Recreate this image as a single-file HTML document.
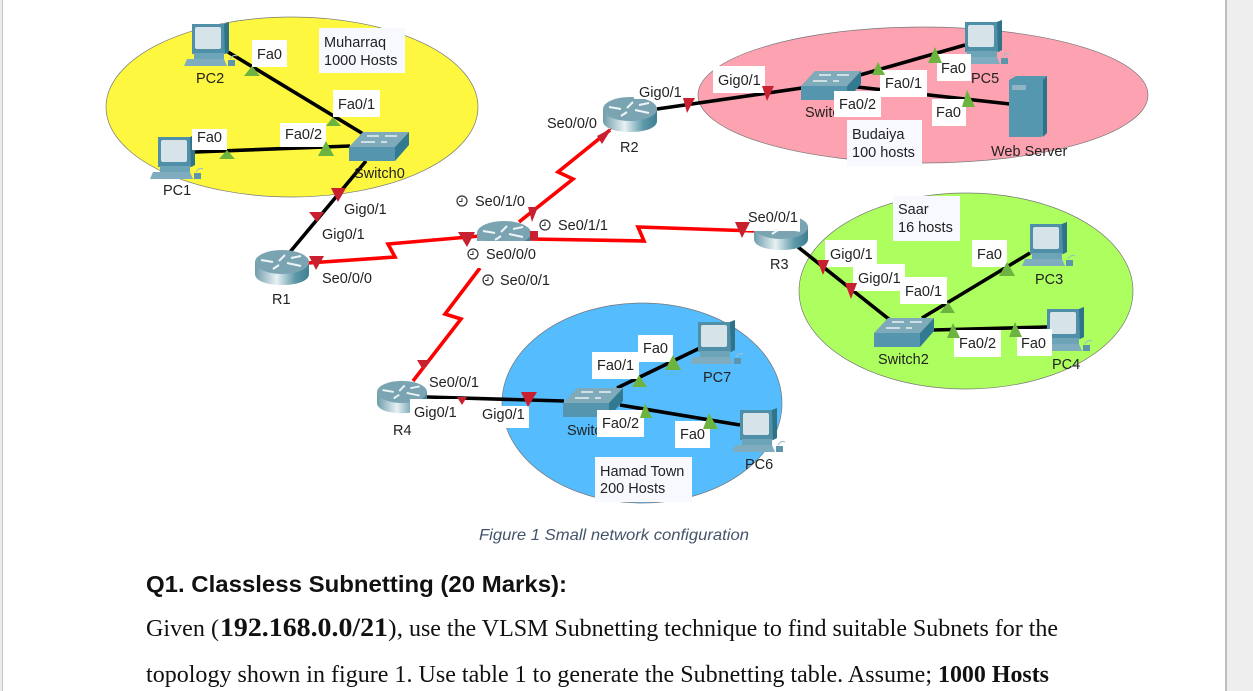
<!DOCTYPE html>
<html><head><meta charset="utf-8"><style>
html,body{margin:0;padding:0;background:#fff;width:1253px;height:691px;overflow:hidden}
svg{display:block}
text{font-family:"Liberation Sans",sans-serif;font-size:14.5px;fill:#222}
.s{font-family:"Liberation Serif",serif;font-size:24px;fill:#111}
.lk{stroke:#000;stroke-width:3.6;fill:none}
.se{stroke:#f00;stroke-width:3.6;fill:none;stroke-linejoin:miter}
.g{fill:#6cb33f}.r{fill:#c8202f}
.b{fill:#fff}.n{fill:#f8f9ff}
</style></head><body>
<svg width="1253" height="691" viewBox="0 0 1253 691" xmlns="http://www.w3.org/2000/svg">
<defs>
<linearGradient id="cy" x1="0" x2="1" y1="0" y2="0"><stop offset="0" stop-color="#6f9cab"/><stop offset=".4" stop-color="#e8f1f3"/><stop offset=".75" stop-color="#5c98a8"/><stop offset="1" stop-color="#3f7f92"/></linearGradient>
<symbol id="pc" width="52" height="48" viewBox="0 0 52 48" overflow="visible">
<polygon points="0,2 32,2 37,0 37,30 33,32 0,32" fill="#4f8fa8"/>
<polygon points="32,2 37,0 37,30 33,32" fill="#2f7389"/>
<rect x="3" y="5" width="26" height="22" rx="2" fill="#d6e4ea"/>
<rect x="2" y="31" width="30" height="6" fill="#6ea4b8"/>
<polygon points="-5,37 32,37 35,44 -8,44" fill="#7fadbf"/>
<rect x="36" y="38" width="7" height="6" fill="#5d96ac"/>
<path d="M38 37q3-5 7-3" stroke="#9fbdc8" fill="none"/>
</symbol>
<symbol id="rt" width="54" height="36" viewBox="0 0 54 36" overflow="visible">
<path d="M0 12V24C0 31 12 35 27 35S54 31 54 24V12Z" fill="url(#cy)"/>
<ellipse cx="27" cy="12" rx="27" ry="12" fill="#7ba4b3"/>
<path d="M6 10l12 2M30 5l-6 6M24 15l-6 4M32 13l14 3M36 8l10-2" stroke="#eef5f7" stroke-width="2" fill="none"/>
</symbol>
<symbol id="sw" width="60" height="30" viewBox="0 0 60 30" overflow="visible">
<polygon points="14,0 60,0 46,15 0,15" fill="#7faab9"/>
<polygon points="0,15 46,15 46,29 0,29" fill="#5595ad"/>
<polygon points="46,15 60,0 60,13 46,29" fill="#327a91"/>
<path d="M18 4h12M36 4h12M12 10h14M32 10h6" stroke="#e8f1f4" stroke-width="1.5"/>
</symbol>
<symbol id="ck" width="12" height="12" viewBox="0 0 12 12" overflow="visible">
<circle cx="6" cy="6" r="5" fill="#fff" stroke="#333" stroke-width="1.2"/>
<path d="M6 3V6.5H3" stroke="#333" fill="none"/>
</symbol>
</defs>

<rect x="0" y="0" width="2" height="691" fill="#ececec"/>
<rect x="2" y="0" width="1" height="691" fill="#c6c6c6"/>
<rect x="1225" y="0" width="2" height="691" fill="#bdbdbd"/>
<rect x="1227" y="0" width="26" height="691" fill="#eeeeee"/>

<ellipse cx="292" cy="107" rx="186" ry="90" fill="#fdf83f" stroke="#777" stroke-width=".7"/>
<ellipse cx="923" cy="95" rx="225" ry="68" fill="#fda2b0" stroke="#777" stroke-width=".7"/>
<ellipse cx="966" cy="291" rx="167" ry="98" fill="#adfe5f" stroke="#777" stroke-width=".7"/>
<ellipse cx="642" cy="403" rx="140" ry="100" fill="#55bcfd" stroke="#777" stroke-width=".7"/>

<path class="lk" d="M228 52L365 135M195 152L350 146M366 161L290 252"/>
<path class="lk" d="M657 109L802 88M860 75L965 45M857 87L1010 104"/>
<path class="lk" d="M798 247L890 320M922 318L1030 253M933 330L1047 327"/>
<path class="lk" d="M427 397L564 401M617 388L700 348M620 405L740 425"/>
<path class="se" d="M308 263L395 257L388 244L480 236"/>
<path class="se" d="M519 222L573 179L558 172L610 130"/>
<path class="se" d="M530 239L644 241L638 227L755 231"/>
<path class="se" d="M480 268L445 314L461 319L413 381"/>

<use href="#pc" x="192" y="22"/>
<use href="#pc" x="158" y="135"/>
<use href="#pc" x="965" y="20"/>
<use href="#pc" x="1030" y="222"/>
<use href="#pc" x="1047" y="307"/>
<use href="#pc" x="698" y="320"/>
<use href="#pc" x="740" y="408"/>
<use href="#rt" x="255" y="250"/>
<use href="#rt" x="603" y="97"/>
<use href="#rt" x="477" y="221"/>
<use href="#rt" x="754" y="215"/>
<use href="#rt" x="377" y="380" width="50" height="35"/>
<use href="#sw" x="349" y="132"/>
<use href="#sw" x="801" y="71"/>
<use href="#sw" x="874" y="318"/>
<use href="#sw" x="563" y="388"/>
<polygon points="1009,80 1016,76 1047,76 1047,133 1041,137 1009,137" fill="#5597ae"/>
<polygon points="1043,80 1047,76 1047,133 1043,137" fill="#2f7389"/>
<rect x="1012" y="85" width="14" height="5" fill="#8fb5c4"/>

<text x="805" y="117">Switch1</text>
<text x="567" y="435">Switch3</text>
<polygon class="g" points="885,84 880,97 895,97"/>
<polygon class="r" points="530,231 538,231 538,240 530,240"/>

<rect class="b" x="470" y="241" width="62" height="27"/>
<rect class="b" x="743" y="205" width="57" height="26"/>
<rect class="b" x="634" y="80" width="50" height="19"/>
<rect class="b" x="410" y="399" width="50" height="22"/>
<rect class="b" x="252" y="40" width="35" height="27"/>
<rect class="n" x="319" y="28" width="86" height="45"/>
<rect class="b" x="333" y="90" width="47" height="27"/>
<rect class="b" x="192" y="129" width="35" height="21"/>
<rect class="b" x="280" y="123" width="46" height="24"/>
<rect class="b" x="713" y="66" width="52" height="27"/>
<rect class="b" x="880" y="70" width="47" height="27"/>
<rect class="b" x="937" y="54" width="34" height="27"/>
<rect class="b" x="834" y="91" width="47" height="26"/>
<rect class="b" x="932" y="99" width="34" height="27"/>
<rect class="n" x="847" y="120" width="75" height="46"/>
<rect class="n" x="893" y="196" width="67" height="45"/>
<rect class="b" x="825" y="240" width="52" height="27"/>
<rect class="b" x="853" y="264" width="52" height="27"/>
<rect class="b" x="900" y="277" width="47" height="27"/>
<rect class="b" x="972" y="240" width="35" height="27"/>
<rect class="b" x="954" y="330" width="47" height="27"/>
<rect class="b" x="1017" y="329" width="35" height="27"/>
<rect class="b" x="480" y="406" width="49" height="22"/>
<rect class="b" x="638" y="335" width="35" height="27"/>
<rect class="b" x="592" y="352" width="47" height="27"/>
<rect class="b" x="597" y="410" width="47" height="27"/>
<rect class="b" x="675" y="421" width="35" height="27"/>
<rect class="n" x="595" y="457" width="97" height="45"/>

<polygon class="g" points="252,66 244,76 260,76"/>
<polygon class="g" points="333,117 326,126 341,126"/>
<polygon class="g" points="227,150 219,159 235,159"/>
<polygon class="g" points="326,141 318,156 334,156"/>
<polygon class="g" points="878,62 872,75 885,75"/>
<polygon class="g" points="935,47 928,63 942,63"/>
<polygon class="g" points="967,90 962,107 975,107"/>
<polygon class="g" points="948,302 940,313 955,313"/>
<polygon class="g" points="1007,262 999,276 1015,276"/>
<polygon class="g" points="953,323 947,338 960,338"/>
<polygon class="g" points="1015,322 1009,337 1022,337"/>
<polygon class="g" points="639,375 632,387 647,387"/>
<polygon class="g" points="673,355 665,370 681,370"/>
<polygon class="g" points="645,403 640,418 652,418"/>
<polygon class="g" points="709,413 703,429 718,429"/>
<polygon class="r" points="331,188 346,188 338,202"/>
<polygon class="r" points="309,212 324,212 317,222"/>
<polygon class="r" points="309,256 324,256 316,270"/>
<polygon class="r" points="458,232 475,232 467,247"/>
<polygon class="r" points="528,207 538,207 532,222"/>
<polygon class="r" points="735,222 750,222 742,238"/>
<polygon class="r" points="597,136 612,128 602,144"/>
<polygon class="r" points="683,98 695,98 687,113"/>
<polygon class="r" points="762,86 774,86 767,101"/>
<polygon class="r" points="817,260 829,260 823,275"/>
<polygon class="r" points="845,283 857,283 851,299"/>
<polygon class="r" points="417,360 431,360 423,370"/>
<polygon class="r" points="457,397 467,397 462,405"/>
<polygon class="r" points="521,392 537,392 528,407"/>

<use href="#ck" x="456" y="195"/>
<use href="#ck" x="539" y="219"/>
<use href="#ck" x="467" y="248"/>
<use href="#ck" x="482" y="274"/>

<text x="257" y="59">Fa0</text>
<text x="324" y="47">Muharraq</text>
<text x="324" y="65">1000 Hosts</text>
<text x="338" y="109">Fa0/1</text>
<text x="197" y="142">Fa0</text>
<text x="285" y="139">Fa0/2</text>
<text x="354" y="178">Switch0</text>
<text x="196" y="83">PC2</text>
<text x="163" y="195">PC1</text>
<text x="344" y="214">Gig0/1</text>
<text x="322" y="239">Gig0/1</text>
<text x="322" y="283">Se0/0/0</text>
<text x="272" y="304">R1</text>
<text x="547" y="128">Se0/0/0</text>
<text x="639" y="97">Gig0/1</text>
<text x="620" y="152">R2</text>
<text x="718" y="85">Gig0/1</text>
<text x="475" y="206">Se0/1/0</text>
<text x="558" y="230">Se0/1/1</text>
<text x="486" y="259">Se0/0/0</text>
<text x="500" y="285">Se0/0/1</text>
<text x="748" y="222">Se0/0/1</text>
<text x="770" y="269">R3</text>
<text x="885" y="88">Fa0/1</text>
<text x="941" y="73">Fa0</text>
<text x="971" y="83">PC5</text>
<text x="839" y="109">Fa0/2</text>
<text x="936" y="117">Fa0</text>
<text x="852" y="139">Budaiya</text>
<text x="852" y="157">100 hosts</text>
<text x="991" y="156">Web Server</text>
<text x="898" y="214">Saar</text>
<text x="898" y="232">16 hosts</text>
<text x="830" y="259">Gig0/1</text>
<text x="858" y="283">Gig0/1</text>
<text x="905" y="296">Fa0/1</text>
<text x="977" y="259">Fa0</text>
<text x="1035" y="284">PC3</text>
<text x="959" y="348">Fa0/2</text>
<text x="1021" y="348">Fa0</text>
<text x="1052" y="369">PC4</text>
<text x="878" y="364">Switch2</text>
<text x="429" y="387">Se0/0/1</text>
<text x="414" y="417">Gig0/1</text>
<text x="482" y="419">Gig0/1</text>
<text x="393" y="435">R4</text>
<text x="643" y="353">Fa0</text>
<text x="597" y="370">Fa0/1</text>
<text x="703" y="382">PC7</text>
<text x="602" y="428">Fa0/2</text>
<text x="680" y="439">Fa0</text>
<text x="600" y="476">Hamad Town</text>
<text x="600" y="493">200 Hosts</text>
<text x="745" y="469">PC6</text>

<text x="479" y="540" font-style="italic" style="fill:#44546a;font-size:16px" textLength="270" lengthAdjust="spacingAndGlyphs">Figure 1 Small network configuration</text>
<text x="146" y="592" font-weight="bold" style="fill:#111;font-size:23.5px" textLength="421" lengthAdjust="spacingAndGlyphs">Q1. Classless Subnetting (20 Marks):</text>
<text class="s" x="146" y="636" textLength="73" lengthAdjust="spacingAndGlyphs">Given (</text>
<text class="s" x="220" y="636" font-weight="bold" style="font-size:26.7px" textLength="168" lengthAdjust="spacingAndGlyphs">192.168.0.0/21</text>
<text class="s" x="388" y="636" textLength="15" lengthAdjust="spacingAndGlyphs">),</text>
<text class="s" x="409" y="636" textLength="649" lengthAdjust="spacing">use the VLSM Subnetting technique to find suitable Subnets for the</text>
<text class="s" x="146" y="682" textLength="786" lengthAdjust="spacing">topology shown in figure 1. Use table 1 to generate the Subnetting table. Assume;</text>
<text class="s" x="938" y="682" font-weight="bold" textLength="111" lengthAdjust="spacingAndGlyphs">1000 Hosts</text>
</svg>
</body></html>
